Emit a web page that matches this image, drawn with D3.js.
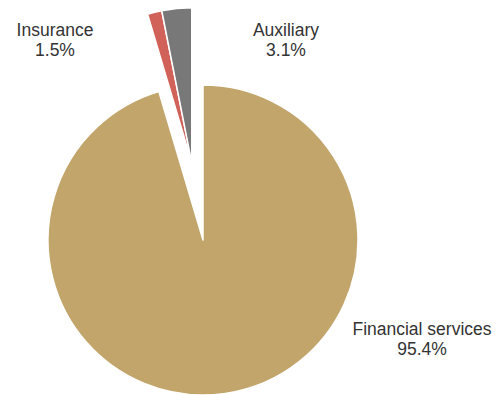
<!DOCTYPE html>
<html>
<head>
<meta charset="utf-8">
<script src="https://cdn.jsdelivr.net/npm/d3@7"></script>
<style>
  html, body { margin: 0; padding: 0; background: #fff; }
  svg { display: block; }
  text { font-family: "Liberation Sans", Arial, Helvetica, sans-serif; fill: #333; }
</style>
</head>
<body>
<svg id="chart" width="496" height="395"></svg>
<script>
// Segment shares (percent of total)
const categories = ["Financial services", "Insurance", "Auxiliary"];
const shares = [95.4, 1.5, 3.1];
const colors = ["#C2A56B", "#D1625A", "#787878"];
const exploded = [false, true, true];

const width = 496, height = 395;
const cx = 203, cy = 240, radius = 155;
const explodeDist = 78;

const svg = d3.select("#chart");
const g = svg.append("g").attr("transform", `translate(${cx},${cy})`);

const pie = d3.pie().sort(null).value(d => d.value).startAngle(0).endAngle(2 * Math.PI);
const data = pie(categories.map((c, i) => ({ name: c, value: shares[i], color: colors[i], out: exploded[i] })));

const arc = d3.arc().innerRadius(0).outerRadius(radius);

// Exploded slices share one offset, along the middle of their combined span
const outArcs = data.filter(d => d.data.out);
const groupMid = (d3.min(outArcs, d => d.startAngle) + d3.max(outArcs, d => d.endAngle)) / 2;
const offX = explodeDist * Math.sin(groupMid);
const offY = -explodeDist * Math.cos(groupMid);

g.selectAll("path.slice")
  .data(data)
  .join("path")
  .attr("class", "slice")
  .attr("d", arc)
  .attr("fill", d => d.data.color)
  .attr("stroke", "#fff")
  .attr("stroke-width", 1.5)
  .attr("stroke-linejoin", "round")
  .attr("transform", d => d.data.out ? `translate(${offX},${offY})` : null);

// Labels
const labels = [
  { name: "Insurance", x: 55, y: 36 },
  { name: "Auxiliary", x: 286, y: 36 },
  { name: "Financial services", x: 422, y: 335 }
];
const fmt = v => d3.format(".1f")(v) + "%";

labels.forEach(l => {
  const i = categories.indexOf(l.name);
  const t = svg.append("text")
    .attr("x", l.x).attr("y", l.y)
    .attr("text-anchor", "middle")
    .style("font-size", "17.5px");
  t.append("tspan").attr("x", l.x).text(l.name);
  t.append("tspan").attr("x", l.x).attr("dy", 20).text(fmt(shares[i]));
});
</script>
</body>
</html>
